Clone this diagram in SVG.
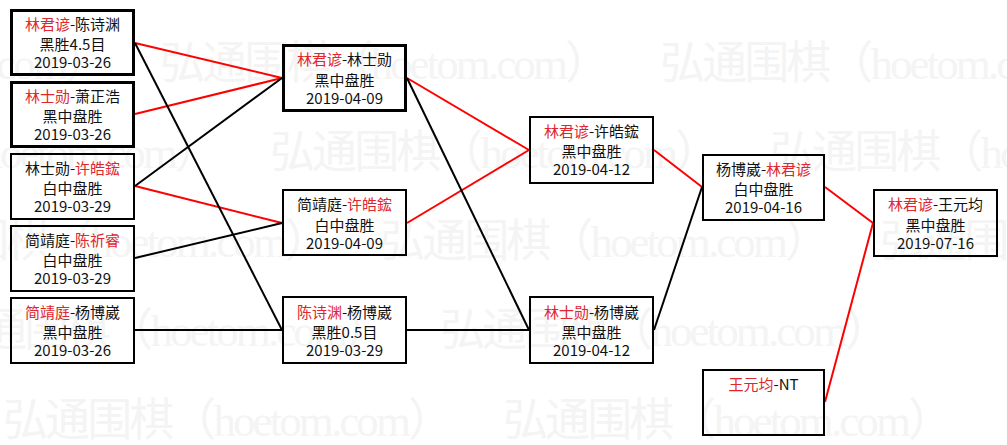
<svg xmlns="http://www.w3.org/2000/svg" width="1007" height="445" viewBox="0 0 1007 445">
<style>
.wm{font-family:"Liberation Serif","Noto Sans CJK SC",serif;font-size:45px;fill:#f4f4f4}
.box{fill:none;stroke:#000;stroke-width:2}
.thick{stroke-width:3}
.t{font-family:"Noto Sans CJK SC",sans-serif;font-size:15px;fill:#111;text-anchor:middle}
.r{fill:#e0262e}
.lr{stroke:#f00;stroke-width:2;fill:none}
.lb{stroke:#000;stroke-width:2;fill:none}
</style>
<rect width="1007" height="445" fill="#fff"/>
<g id="watermark">
<text class="wm" x="-340" y="79" textLength="450">弘通围棋（hoetom.com）</text>
<text class="wm" x="160" y="79" textLength="450">弘通围棋（hoetom.com）</text>
<text class="wm" x="660" y="79" textLength="450">弘通围棋（hoetom.com）</text>
<text class="wm" x="-230" y="168" textLength="450">弘通围棋（hoetom.com）</text>
<text class="wm" x="270" y="168" textLength="450">弘通围棋（hoetom.com）</text>
<text class="wm" x="770" y="168" textLength="450">弘通围棋（hoetom.com）</text>
<text class="wm" x="-120" y="257" textLength="450">弘通围棋（hoetom.com）</text>
<text class="wm" x="380" y="257" textLength="450">弘通围棋（hoetom.com）</text>
<text class="wm" x="880" y="257" textLength="450">弘通围棋（hoetom.com）</text>
<text class="wm" x="-60" y="346" textLength="450">弘通围棋（hoetom.com）</text>
<text class="wm" x="440" y="346" textLength="450">弘通围棋（hoetom.com）</text>
<text class="wm" x="3" y="436" textLength="450">弘通围棋（hoetom.com）</text>
<text class="wm" x="503" y="436" textLength="450">弘通围棋（hoetom.com）</text>
</g>
<g id="connectors">
<line class="lr" x1="135" y1="43" x2="282" y2="78"/>
<line class="lr" x1="135" y1="114" x2="282" y2="78"/>
<line class="lr" x1="135" y1="186" x2="282" y2="223"/>
<line class="lr" x1="407" y1="78" x2="529" y2="150"/>
<line class="lr" x1="407" y1="223" x2="529" y2="150"/>
<line class="lr" x1="654" y1="150" x2="702" y2="187"/>
<line class="lr" x1="825" y1="187" x2="873" y2="223"/>
<line class="lr" x1="825" y1="402" x2="873" y2="223"/>
<line class="lb" x1="135" y1="43" x2="282" y2="330"/>
<line class="lb" x1="135" y1="186" x2="282" y2="78"/>
<line class="lb" x1="135" y1="258" x2="282" y2="223"/>
<line class="lb" x1="135" y1="330" x2="282" y2="330"/>
<line class="lb" x1="407" y1="78" x2="529" y2="330"/>
<line class="lb" x1="407" y1="330" x2="529" y2="330"/>
<line class="lb" x1="654" y1="330" x2="702" y2="187"/>
</g>
<g id="n1">
<rect class="box thick" x="11.5" y="10.5" width="122" height="64"/>
<text class="t" x="72.5" y="30"><tspan class="r">林君谚</tspan>-陈诗渊</text>
<text class="t" x="72.5" y="50">黑胜4.5目</text>
<text class="t" x="72.5" y="68">2019-03-26</text>
</g>
<g id="n2">
<rect class="box thick" x="11.5" y="82.5" width="122" height="64"/>
<text class="t" x="72.5" y="102"><tspan class="r">林士勋</tspan>-萧正浩</text>
<text class="t" x="72.5" y="122">黑中盘胜</text>
<text class="t" x="72.5" y="140">2019-03-26</text>
</g>
<g id="n3">
<rect class="box" x="11" y="154" width="123" height="65"/>
<text class="t" x="72.5" y="174">林士勋-<tspan class="r">许皓鋐</tspan></text>
<text class="t" x="72.5" y="194">白中盘胜</text>
<text class="t" x="72.5" y="212">2019-03-29</text>
</g>
<g id="n4">
<rect class="box" x="11" y="226" width="123" height="65"/>
<text class="t" x="72.5" y="246">简靖庭-<tspan class="r">陈祈睿</tspan></text>
<text class="t" x="72.5" y="266">白中盘胜</text>
<text class="t" x="72.5" y="284">2019-03-29</text>
</g>
<g id="n5">
<rect class="box" x="11" y="298" width="123" height="65"/>
<text class="t" x="72.5" y="318"><tspan class="r">简靖庭</tspan>-杨博崴</text>
<text class="t" x="72.5" y="338">黑中盘胜</text>
<text class="t" x="72.5" y="356">2019-03-26</text>
</g>
<g id="m1">
<rect class="box thick" x="283.5" y="45.5" width="122" height="65"/>
<text class="t" x="344.5" y="65"><tspan class="r">林君谚</tspan>-林士勋</text>
<text class="t" x="344.5" y="86">黑中盘胜</text>
<text class="t" x="344.5" y="104">2019-04-09</text>
</g>
<g id="m2">
<rect class="box" x="283" y="190" width="123" height="65"/>
<text class="t" x="344.5" y="210">简靖庭-<tspan class="r">许皓鋐</tspan></text>
<text class="t" x="344.5" y="231">白中盘胜</text>
<text class="t" x="344.5" y="249">2019-04-09</text>
</g>
<g id="m3">
<rect class="box" x="283" y="297" width="123" height="66"/>
<text class="t" x="344.5" y="318"><tspan class="r">陈诗渊</tspan>-杨博崴</text>
<text class="t" x="344.5" y="338">黑胜0.5目</text>
<text class="t" x="344.5" y="356">2019-03-29</text>
</g>
<g id="s1">
<rect class="box" x="530" y="117" width="123" height="66"/>
<text class="t" x="591.5" y="137"><tspan class="r">林君谚</tspan>-许皓鋐</text>
<text class="t" x="591.5" y="157">黑中盘胜</text>
<text class="t" x="591.5" y="175">2019-04-12</text>
</g>
<g id="s2">
<rect class="box" x="530" y="297" width="123" height="66"/>
<text class="t" x="591.5" y="318"><tspan class="r">林士勋</tspan>-杨博崴</text>
<text class="t" x="591.5" y="338">黑中盘胜</text>
<text class="t" x="591.5" y="356">2019-04-12</text>
</g>
<g id="f1">
<rect class="box" x="703" y="155" width="121" height="65"/>
<text class="t" x="763.5" y="175">杨博崴-<tspan class="r">林君谚</tspan></text>
<text class="t" x="763.5" y="195">白中盘胜</text>
<text class="t" x="763.5" y="213">2019-04-16</text>
</g>
<g id="f2">
<rect class="box" x="703" y="370" width="121" height="65"/>
<text class="t" x="763.5" y="390"><tspan class="r">王元均</tspan>-NT</text>
</g>
<g id="final">
<rect class="box" x="874" y="190" width="123" height="66"/>
<text class="t" x="935.5" y="210"><tspan class="r">林君谚</tspan>-王元均</text>
<text class="t" x="935.5" y="231">黑中盘胜</text>
<text class="t" x="935.5" y="249">2019-07-16</text>
</g>
</svg>
